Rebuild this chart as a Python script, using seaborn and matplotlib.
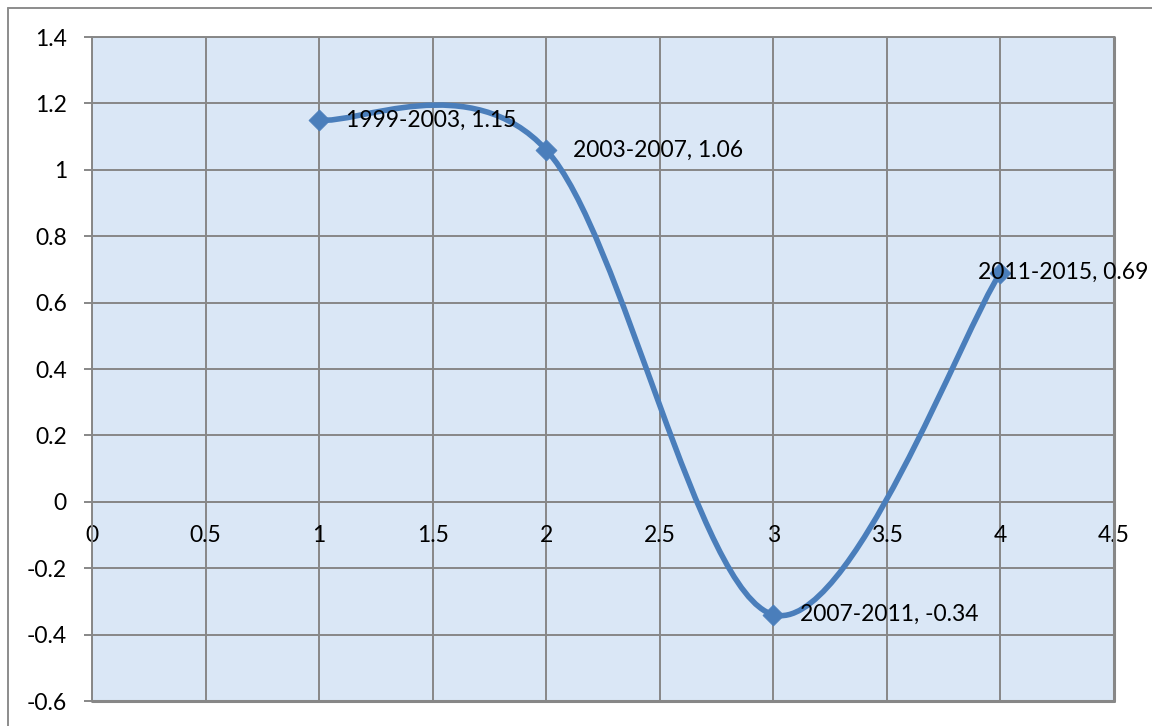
import matplotlib
matplotlib.use("Agg")
import matplotlib.pyplot as plt
from matplotlib.path import Path
from matplotlib.patches import PathPatch
from matplotlib.lines import Line2D
import numpy as np
import pandas as pd
import seaborn as sns

# Series data
periods = ["1999-2003", "2003-2007", "2007-2011", "2011-2015"]
x_vals = [1, 2, 3, 4]
y_vals = [1.15, 1.06, -0.34, 0.69]

x_ticks = [0, 0.5, 1, 1.5, 2, 2.5, 3, 3.5, 4, 4.5]
x_tick_labels = ["0", "0.5", "1", "1.5", "2", "2.5", "3", "3.5", "4", "4.5"]
y_ticks = [-0.6, -0.4, -0.2, 0, 0.2, 0.4, 0.6, 0.8, 1, 1.2, 1.4]
y_tick_labels = ["-0.6", "-0.4", "-0.2", "0", "0.2", "0.4", "0.6", "0.8", "1", "1.2", "1.4"]

LINE_BLUE = "#4a7ebb"
GRID_GRAY = "#878787"
PLOT_BG = "#dae7f6"
FS = 16.5

sns.set_theme(style="white")
plt.rcParams["font.family"] = ["Lato", "DejaVu Sans"]

df = pd.DataFrame({"period": periods, "x": x_vals, "y": y_vals})

W, H = 1152, 726
fig = plt.figure(figsize=(W / 100, H / 100), dpi=100)
ax = fig.add_axes([92 / W, 1 - 701 / H, (1114 - 92) / W, (701 - 37) / H])
ax.set_facecolor(PLOT_BG)

# Smoothed connecting line (cubic Bezier segments, Catmull-Rom style control points)
pts = np.column_stack([df["x"].to_numpy(float), df["y"].to_numpy(float)])
n = len(pts)
verts = [tuple(pts[0])]
codes = [Path.MOVETO]
for i in range(n - 1):
    p_prev = pts[i - 1] if i > 0 else pts[i]
    p0, p1 = pts[i], pts[i + 1]
    p_next = pts[i + 2] if i + 2 < n else pts[i + 1]
    c1 = p0 + (p1 - p_prev) / 6.0
    c2 = p1 - (p_next - p0) / 6.0
    verts += [tuple(c1), tuple(c2), tuple(p1)]
    codes += [Path.CURVE4, Path.CURVE4, Path.CURVE4]
ax.add_patch(PathPatch(Path(verts, codes), facecolor="none", edgecolor=LINE_BLUE,
                       lw=4.0, capstyle="round", joinstyle="round", zorder=3))

sns.scatterplot(data=df, x="x", y="y", marker="D", s=115, color=LINE_BLUE,
                edgecolor=LINE_BLUE, linewidth=0.5, ax=ax, zorder=4, legend=False)

# Data labels
offsets = [19, 19, 19, -16.5]
for (_, row), dx in zip(df.iterrows(), offsets):
    ax.annotate(f"{row['period']}, {row['y']:g}", (row["x"], row["y"]),
                xytext=(dx, 0), textcoords="offset points", ha="left", va="center",
                fontsize=FS, color="black", zorder=5, annotation_clip=False)

ax.set_xlim(0, 4.5)
ax.set_ylim(-0.6, 1.4)
ax.set_xticks(x_ticks)
ax.set_xticklabels(x_tick_labels)
ax.set_yticks(y_ticks)
ax.set_yticklabels(y_tick_labels)
ax.set_xlabel("")
ax.set_ylabel("")

ax.grid(True, color=GRID_GRAY, lw=1.4)
ax.set_axisbelow(True)

for side in ["left", "right", "top", "bottom"]:
    ax.spines[side].set_color(GRID_GRAY)
    ax.spines[side].set_linewidth(1.4)
ax.spines["bottom"].set_position(("data", 0))

ax.tick_params(axis="y", which="both", left=True, length=6, width=1.4, color=GRID_GRAY,
               labelsize=FS, pad=12, labelcolor="black")
ax.tick_params(axis="x", which="both", bottom=False, length=0, labelsize=FS, pad=17,
               labelcolor="black")

# Plot-area bottom and right edges
ax.axhline(-0.6, color=GRID_GRAY, lw=2.2, zorder=2, clip_on=False)
ax.axvline(4.5, color=GRID_GRAY, lw=2.2, zorder=2, clip_on=False)

# Chart-area border (left and top)
fig.add_artist(Line2D([8 / W, 8 / W], [0, 1 - 7.5 / H], color="#8c8c8c", lw=1.4,
                      transform=fig.transFigure))
fig.add_artist(Line2D([8 / W, 1], [1 - 7.5 / H, 1 - 7.5 / H], color="#8c8c8c", lw=1.4,
                      transform=fig.transFigure))

fig.savefig("out.png", dpi=100, facecolor="white")
